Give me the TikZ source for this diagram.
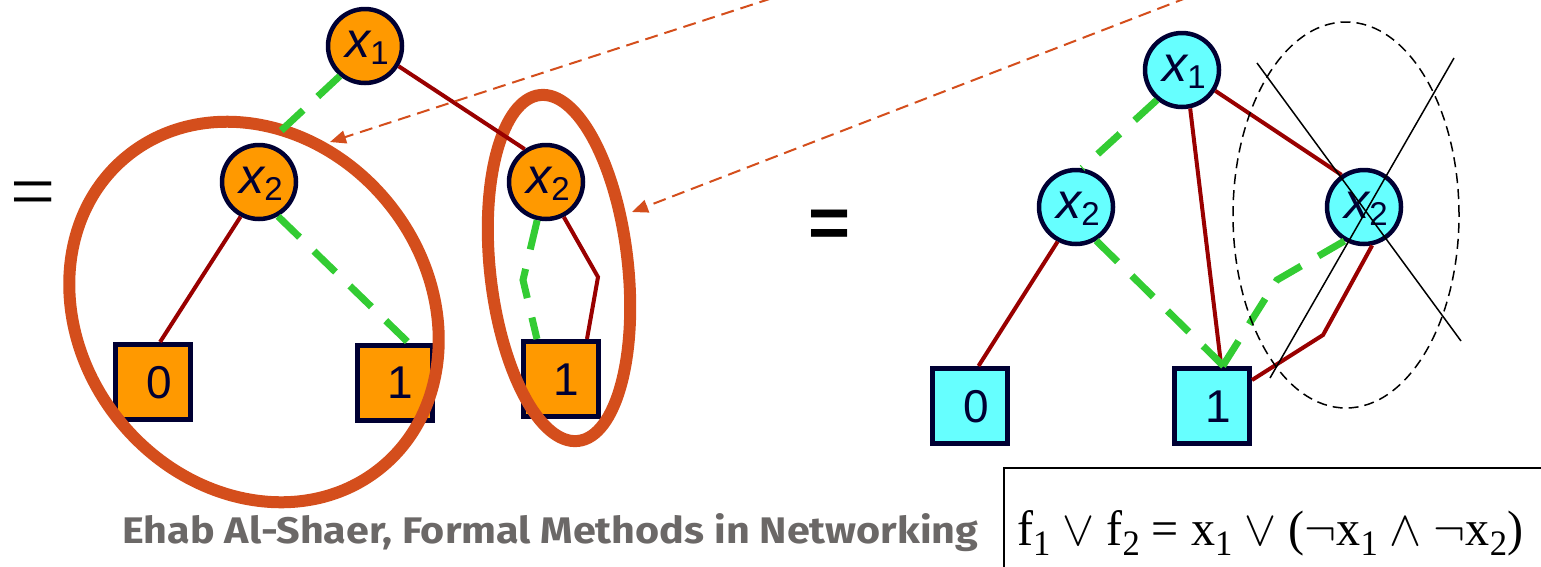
\documentclass[tikz,border=0pt]{standalone}
\usepackage{fontspec}
\setmainfont{Liberation Sans}
\newfontfamily\formulafont{Liberation Serif}
\newfontfamily\creditfont{Fira Sans}
\usetikzlibrary{arrows.meta,calc}

\definecolor{bddorange}{HTML}{FF9900}
\definecolor{bddcyan}{HTML}{66FFFF}
\definecolor{bddnavy}{HTML}{000033}
\definecolor{hiedge}{HTML}{990000}
\definecolor{loedge}{HTML}{33CC33}
\definecolor{ringcol}{HTML}{D44E1C}
\definecolor{creditgray}{HTML}{6B6867}

% variable label: italic x with a large, lowered index
\newcommand{\varlab}[1]{{\fontsize{50}{50}\selectfont\itshape x}\raisebox{-7pt}{\fontsize{33}{33}\selectfont #1}}
\newcommand{\termlab}[1]{\fontsize{46}{46}\selectfont #1}
% index inside the formula
\newcommand{\fsub}[1]{\raisebox{-2.2pt}{\fontsize{7.2}{7.2}\selectfont #1}}

\tikzset{
  vnode/.style={circle, draw=bddnavy, line width=4.5pt, minimum size=74pt, inner sep=0pt},
  tnode/.style={rectangle, draw=bddnavy, line width=5pt, minimum size=75pt, inner sep=0pt},
  vlabel/.style={inner sep=0pt, text=bddnavy},
  hi/.style={draw=hiedge, line width=4pt},
  lo/.style={draw=loedge, line width=7pt, dash pattern=on 30pt off 20pt},
  ringline/.style={draw=ringcol, line width=12pt},
  ptr/.style={draw=ringcol, line width=2pt, dash pattern=on 13pt off 7pt,
              -{Triangle[length=16pt,width=13pt]}},
  cross/.style={draw=black, line width=1.5pt},
  scopering/.style={draw=black, line width=1.5pt, dash pattern=on 10pt off 6pt},
}

\begin{document}
\begin{tikzpicture}[x=1pt,y=-1pt]
\useasboundingbox (0,0) rectangle (1541,566);
\clip (0,0) rectangle (1541,566);

% ---------- first diagram (orange) ----------
\node[vnode, fill=bddorange] (a1)  at (365,46)  {};
\node[vnode, fill=bddorange] (a2l) at (259,182) {};
\node[vnode, fill=bddorange] (a2r) at (546,182) {};
\node[tnode, fill=bddorange] (a0)  at (153,382) {};
\node[tnode, fill=bddorange] (a1l) at (394.5,382.5) {};
\node[tnode, fill=bddorange] (a1r) at (561,379) {};

% highlighted sub-diagrams
\draw[ringline, rotate around={-50.7:(254,312)}] (254,312) ellipse [x radius=201pt, y radius=173pt];
\draw[ringline, rotate around={6.3:(559,268)}] (559,268) ellipse [x radius=69pt, y radius=174pt];

% edges
\draw[lo] (a1.230) -- (a2l.78);
\draw[hi] (a1.329) -- (a2r.123);
\draw[hi] (a2l.242) -- (a0.80);
\draw[lo] (a2l.299) -- (a1l.71);
\draw[lo] (a2r.257) -- (523,280) -- (a1r.121);
\draw[hi] (a2r.297) -- (598,277) -- (a1r.57);

% labels
\node[vlabel, fill=bddorange] (la1)  at (367,48)  {\varlab{1}};
\node[vlabel, fill=bddorange] (la2l) at (261,184) {\varlab{2}};
\node[vlabel, fill=bddorange] (la2r) at (548,184) {\varlab{2}};
\node[vlabel] (la0)  at (159,383) {\termlab{0}};
\node[vlabel] (la1l) at (400,383) {\termlab{1}};
\node[vlabel] (la1r) at (566,380) {\termlab{1}};

% ---------- second diagram (cyan) ----------
\node[vnode, fill=bddcyan] (c1)  at (1182,70)  {};
\node[vnode, fill=bddcyan] (c2l) at (1076,207) {};
\node[vnode, fill=bddcyan] (c2r) at (1364,207) {};
\node[tnode, fill=bddcyan] (c0)  at (970,406)  {};
\node[tnode, fill=bddcyan] (c1t) at (1212,406) {};

\draw[lo] (c1.230) -- (c2l.81);
\draw[hi] (c1.282) -- (c1t.77);
\draw[hi] (c1.328) -- (c2r.125);
\draw[hi] (c2l.242) -- (c0.78);
\draw[lo] (c2l.301) -- (c1t.74);
\draw[lo] (c2r.240) -- (1277,280) -- (c1t.75);
\draw[hi] (c2r.282) -- (1323,335) -- (c1t.33);

\node[vlabel] (lc1)  at (1184,72)  {\varlab{1}};
\node[vlabel] (lc2l) at (1078,209) {\varlab{2}};
\node[vlabel] (lc2r) at (1366,209) {\varlab{2}};
\node[vlabel] (lc0)  at (976,407)  {\termlab{0}};
\node[vlabel] (lc1t) at (1218,407) {\termlab{1}};

% redundant node, struck out
\draw[scopering] (1346,215) ellipse [x radius=113pt, y radius=193pt];
\coordinate (xa) at (1257,63);
\coordinate (xb) at (1461,341);
\coordinate (xc) at (1454,58);
\coordinate (xd) at (1270,378);
\draw[cross] (xa) -- (xb);
\draw[cross] (xc) -- (xd);

% ---------- equals signs ----------
\node (eq1) at (33,200) {\fontsize{80}{80}\selectfont\formulafont =};
\node (eq2) at (830,229) {\fontsize{72}{72}\selectfont\bfseries =};

% ---------- reduction pointers ----------
\coordinate (srcA) at (1000,-76);
\coordinate (tipA) at (330,142);
\coordinate (srcB) at (1300,-46);
\coordinate (tipB) at (632,212);
\draw[ptr] (srcA) -- (tipA);
\draw[ptr] (srcB) -- (tipB);

% ---------- credit and formula ----------
\node[anchor=base west, inner sep=0pt, text=creditgray] (credit) at (122,543)
  {\resizebox{856pt}{30pt}{\creditfont\bfseries Ehab Al-Shaer, Formal Methods in Networking}};

\coordinate (fboxa) at (1004,600);
\coordinate (fboxb) at (1004,468);
\coordinate (fboxc) at (1560,468);
\draw[line width=2pt] (fboxa) -- (fboxb) -- (fboxc);
\node[anchor=base west, inner sep=0pt] (formula) at (1017,545)
  {\resizebox{506pt}{35pt}{\formulafont
   f\fsub{1} $\vee$ f\fsub{2} = x\fsub{1} $\vee$ ($\neg$x\fsub{1} $\wedge$ $\neg$x\fsub{2})}};
\end{tikzpicture}
\end{document}
